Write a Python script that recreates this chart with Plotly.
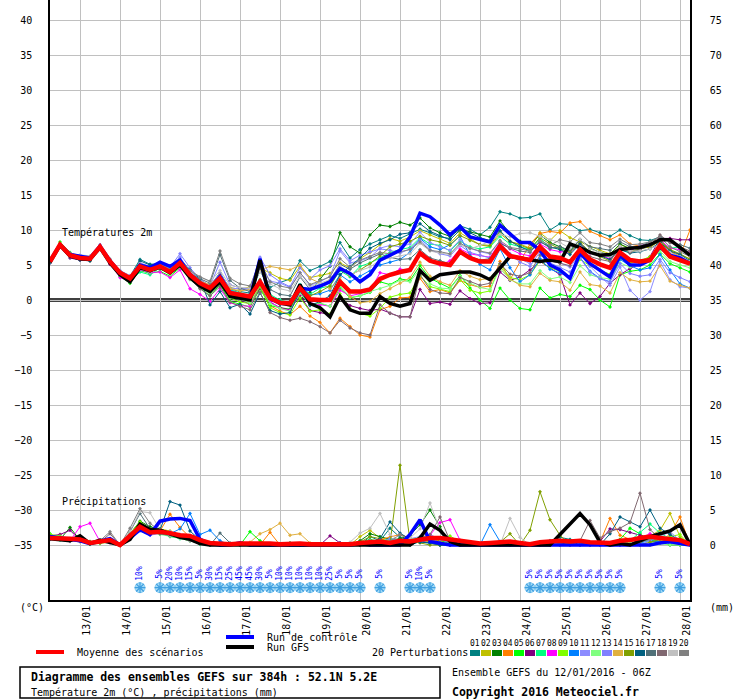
import pandas as pd
import plotly.graph_objects as go

FONT = "DejaVu Sans Mono"
GRID = "#c0c0c0"

times = pd.date_range("2016-01-12 06:00", periods=65, freq="6h")
day_ticks = pd.date_range("2016-01-13", "2016-01-28", freq="D")
day_labels = [d.strftime("%d/%m") for d in day_ticks]

member_names = ["%02d" % k for k in range(1, 21)]
member_colors = [
    "#008080", "#c0c000", "#008000", "#ff8000", "#00ff00",
    "#800080", "#00ff80", "#ff00ff", "#80ff00", "#0080ff",
    "#8c8cff", "#80ff80", "#8080ff", "#e0b040", "#80a000",
    "#006080", "#507078", "#806870", "#c0c0c0", "#808080",
]

# --- temperature 2m (degC), 6-hourly from 12/01 06Z ---
temp_mean = [5.5, 7.9, 6.4, 6.0, 5.9, 7.6, 5.5, 3.9,
             3.1, 4.8, 4.3, 4.8, 4.0, 5.3, 3.6, 2.4,
             1.7, 3.1, 1.0, 0.7, 0.5, 2.6, 0.3, -0.4,
             -0.5, 1.7, 0.1, 0.0, 0.0, 2.6, 1.2, 1.2,
             1.5, 3.0, 3.6, 4.0, 4.3, 6.7, 5.6, 5.2,
             5.0, 6.9, 6.0, 5.5, 5.5, 7.7, 6.3, 6.0,
             5.7, 7.6, 6.2, 6.0, 5.4, 7.2, 5.8, 5.1,
             4.6, 6.8, 5.7, 5.5, 5.7, 7.8, 6.2, 5.7,
             5.2]
temp_control = [5.6, 7.9, 6.5, 6.2, 6.0, 7.7, 5.6, 3.9,
                3.0, 5.0, 4.6, 5.4, 4.8, 5.7, 3.5, 2.4,
                1.6, 3.4, 1.0, 0.6, 0.2, 5.9, 0.2, -0.5,
                -0.5, 1.7, 1.5, 2.0, 2.6, 4.5, 3.8, 2.6,
                3.6, 5.7, 6.4, 7.1, 9.0, 12.4, 11.9, 10.7,
                9.3, 10.5, 9.0, 8.6, 8.3, 10.7, 9.5, 8.2,
                8.2, 7.1, 5.0, 4.3, 3.1, 6.7, 5.2, 4.3,
                3.3, 6.4, 5.0, 5.0, 5.7, 7.6, 6.4, 6.0,
                5.2]
temp_gfs = [5.4, 7.8, 6.3, 5.9, 5.8, 7.5, 5.3, 3.6,
            2.6, 4.6, 4.2, 4.7, 3.9, 5.0, 3.2, 2.0,
            1.2, 2.6, 0.5, 0.2, 0.0, 5.7, 0.4, -0.4,
            -0.7, 2.2, -0.5, -1.1, -2.4, 0.5, -1.4, -1.9,
            -1.9, 0.5, -0.5, -0.9, -0.5, 4.2, 2.8, 3.6,
            3.8, 4.0, 4.0, 3.6, 2.9, 4.5, 6.2, 6.0,
            5.7, 5.5, 5.7, 5.5, 8.0, 7.5, 6.8, 6.4,
            6.5, 7.2, 7.4, 7.5, 7.9, 8.6, 8.6, 7.5,
            6.4]

temp_m01 = [5.3, 7.7, 6.5, 6.2, 5.8, 7.4, 5.6, 4.2,
            3.4, 5.8, 5.1, 5.2, 4.6, 5.6, 3.9, 2.9,
            2.0, 3.9, 1.6, 1.2, 1.0, 4.1, 1.8, 2.5,
            3.0, 5.6, 4.2, 4.8, 5.5, 8.2, 6.0, 7.2,
            8.0, 8.6, 9.2, 8.8, 9.5, 10.1, 9.6, 9.0,
            8.8, 10.6, 10.1, 9.3, 10.4, 12.6, 12.3, 11.7,
            11.8, 12.3, 10.0, 10.9, 10.8, 9.9, 10.1, 9.6,
            9.1, 10.0, 9.2, 8.6, 8.5, 9.0, 8.5, 7.4,
            6.7]
temp_m02 = [5.6, 7.8, 6.3, 6.1, 5.9, 7.7, 5.4, 3.7,
            2.9, 4.6, 4.0, 4.9, 3.8, 5.1, 3.4, 2.2,
            1.4, 3.4, 1.8, 1.5, 1.9, 4.6, 3.9, 3.1,
            2.8, 4.8, 3.2, 3.5, 3.8, 5.3, 4.6, 5.9,
            6.8, 7.9, 8.8, 8.4, 9.0, 9.9, 9.3, 8.8,
            8.1, 9.6, 8.7, 7.9, 7.6, 9.5, 8.3, 8.0,
            7.4, 9.6, 8.5, 9.9, 8.9, 8.3, 7.6, 7.1,
            6.6, 7.9, 7.4, 7.3, 7.8, 8.3, 7.1, 6.5,
            5.9]
temp_m03 = [5.4, 7.6, 6.6, 5.9, 6.0, 7.5, 5.6, 3.6,
            2.8, 4.4, 4.1, 4.5, 3.8, 5.1, 3.1, 1.9,
            1.1, 2.4, 0.4, 0.3, -0.2, 2.3, 0.2, -0.6,
            -0.2, 0.1, 1.1, 2.9, 4.8, 9.6, 7.6, 6.7,
            9.3, 10.7, 10.5, 11.1, 10.7, 11.7, 10.3, 9.6,
            9.1, 10.1, 9.7, 9.3, 9.0, 11.3, 9.5, 8.4,
            8.0, 9.3, 8.2, 7.6, 7.0, 8.6, 7.4, 6.8,
            6.5, 8.0, 7.3, 7.6, 7.9, 8.6, 7.0, 6.1,
            5.4]
temp_m04 = [5.5, 7.9, 6.2, 5.8, 5.7, 7.5, 5.2, 3.7,
            3.1, 4.5, 4.2, 4.4, 4.2, 5.5, 3.5, 2.6,
            1.7, 3.1, 0.9, 0.4, -0.3, 1.8, -0.8, -1.6,
            -2.1, -0.9, -2.3, -3.2, -4.7, -2.6, -3.8, -5.0,
            -5.3, -1.4, -0.9, 0.3, 0.4, 3.1, 1.2, 1.5,
            1.0, 2.8, 2.2, 1.8, 2.0, 5.5, 2.9, 5.5,
            8.0, 9.5, 9.8, 9.6, 11.0, 11.2, 9.8, 9.2,
            8.6, 9.3, 8.0, 7.7, 7.4, 8.8, 6.9, 6.3,
            10.0]
temp_m05 = [5.7, 8.3, 6.8, 6.0, 5.8, 7.6, 5.8, 3.4,
            2.4, 4.2, 3.8, 4.1, 3.4, 4.6, 3.2, 1.7,
            0.6, 2.2, -0.2, -0.6, -1.0, 1.6, -0.8, -1.1,
            -1.3, 1.2, -0.6, -0.5, -0.9, 1.8, 0.3, 0.6,
            1.1, 2.6, 2.2, 3.0, 2.8, 4.9, 3.1, 2.4,
            1.7, 3.5, 1.7, 0.0, -1.2, 1.7, 0.0, -1.2,
            -1.4, 1.7, 0.3, 0.8, 0.5, 2.1, 1.5, 0.0,
            -1.0, 3.6, 4.1, 4.3, 5.0, 6.6, 5.2, 4.6,
            4.0]
temp_m06 = [5.3, 7.6, 6.0, 5.7, 5.6, 7.3, 5.1, 3.9,
            3.3, 4.9, 4.4, 5.0, 4.1, 5.4, 3.3, 2.0,
            1.2, 2.5, 0.6, 0.0, -0.6, 1.7, -0.3, -1.1,
            -1.4, 0.6, -1.5, -1.8, -2.1, 0.4, -0.8, -1.2,
            -1.5, -1.3, -1.9, -2.4, -2.4, 1.5, -0.5, -0.3,
            -0.6, 1.3, 0.2, -0.5, -0.4, 4.0, 2.8, 3.3,
            4.3, 5.5, 4.6, 3.6, -0.7, 1.0, -0.5, 0.5,
            2.4, 3.6, 4.5, 5.2, 6.2, 8.8, 8.8, 8.6,
            8.6]
temp_m07 = [5.6, 8.0, 6.4, 6.3, 6.1, 7.8, 5.5, 3.8,
            2.6, 4.0, 3.6, 4.6, 3.9, 5.0, 3.4, 2.6,
            1.5, 3.5, 1.5, 1.0, 0.4, 2.9, 0.8, 0.0,
            -0.4, 2.2, 0.8, 1.7, 2.0, 4.2, 3.3, 4.8,
            5.3, 6.0, 6.8, 7.2, 7.5, 8.9, 8.0, 7.8,
            7.0, 8.4, 7.6, 7.3, 7.6, 9.1, 8.0, 7.6,
            7.2, 8.8, 7.5, 7.4, 6.9, 8.1, 6.8, 6.5,
            6.2, 7.2, 6.8, 7.2, 7.9, 8.5, 7.4, 7.6,
            6.7]
temp_m08 = [5.4, 7.7, 6.3, 6.2, 5.9, 7.5, 5.3, 3.2,
            2.7, 4.3, 3.9, 4.0, 3.2, 4.3, 1.6, 0.8,
            -0.2, 1.6, -0.4, -0.8, -0.9, 2.1, -0.2, -1.2,
            -1.5, 0.9, -0.4, -0.7, -0.9, 1.4, 0.6, 0.9,
            1.3, 3.9, 3.6, 4.4, 4.3, 6.5, 5.8, 5.0,
            5.6, 7.3, 6.6, 6.4, 6.1, 8.3, 7.3, 6.6,
            6.3, 8.0, 7.2, 6.9, 6.8, 8.1, 6.7, 6.4,
            5.9, 7.3, 7.0, 7.8, 8.0, 8.6, 7.4, 7.2,
            6.8]
temp_m09 = [5.5, 8.1, 6.5, 5.9, 6.2, 7.7, 5.7, 3.6,
            2.9, 4.7, 4.3, 4.7, 3.9, 5.0, 3.3, 2.2,
            1.3, 2.6, 0.3, -0.3, -0.5, 1.9, -1.1, -1.8,
            -2.1, 0.3, -1.6, -1.4, -2.0, 0.9, -1.2, -1.9,
            -2.3, -1.2, 0.4, 0.8, 1.0, 3.5, 1.9, 1.6,
            1.2, 2.9, 1.4, 1.0, 1.3, 5.1, 3.2, 2.9,
            3.6, 5.6, 4.6, 4.1, 3.2, 5.8, 4.9, 4.2,
            3.7, 5.9, 5.3, 5.6, 6.2, 7.3, 6.1, 5.6,
            5.1]
temp_m10 = [5.4, 7.8, 6.4, 6.0, 5.8, 7.6, 5.5, 3.9,
            3.3, 5.1, 4.5, 5.0, 4.3, 5.6, 3.8, 2.7,
            1.9, 3.3, 1.4, 0.9, 0.7, 2.8, 0.5, -0.2,
            -0.4, 2.1, 0.7, 0.9, 1.4, 3.6, 2.6, 3.4,
            4.1, 5.0, 5.4, 5.8, 6.8, 8.8, 7.6, 7.2,
            7.9, 9.1, 6.4, 5.1, 4.3, 7.3, 4.6, 2.6,
            3.6, 5.9, 4.4, 3.9, 3.3, 6.1, 4.1, 3.1,
            2.6, 5.8, 4.9, 4.3, 4.6, 6.5, 4.3, 2.3,
            1.7]
temp_m11 = [5.6, 7.9, 6.6, 6.4, 6.1, 7.9, 5.8, 4.2,
            3.5, 5.3, 4.8, 5.3, 4.9, 6.1, 4.1, 2.9,
            2.0, 3.8, 1.7, 1.6, 1.5, 4.8, 2.7, 2.4,
            1.8, 3.9, 2.1, 2.6, 3.4, 7.0, 5.3, 5.6,
            6.1, 7.4, 7.8, 7.6, 8.0, 9.7, 8.2, 7.6,
            7.1, 8.6, 7.4, 6.9, 6.6, 8.4, 6.3, 5.9,
            5.2, 7.6, 5.8, 5.3, 4.7, 6.6, 4.8, 3.4,
            2.1, 4.7, 1.4, 0.0, 1.2, 5.5, 2.9, 1.9,
            1.7]
temp_m12 = [5.5, 7.9, 6.2, 6.1, 6.0, 7.4, 5.4, 3.5,
            2.6, 4.4, 4.0, 4.5, 3.6, 4.7, 2.9, 1.8,
            0.9, 2.7, 0.3, 0.1, -0.4, 2.2, -0.5, -1.2,
            -1.6, 1.0, -0.7, -0.4, -0.9, 2.0, 0.4, 0.6,
            1.2, 1.6, 2.1, 2.8, 2.6, 4.4, 2.3, 1.7,
            1.6, 3.4, 2.4, 1.8, 1.5, 4.5, 2.9, 2.3,
            2.3, 4.2, 3.0, 3.3, 2.5, 4.9, 3.6, 3.2,
            3.0, 5.3, 4.7, 5.0, 5.6, 7.0, 5.5, 5.0,
            4.6]
temp_m13 = [5.4, 7.8, 6.7, 6.3, 6.0, 7.6, 5.6, 3.9,
            3.2, 4.9, 4.4, 5.0, 4.7, 6.6, 4.6, 3.0,
            2.0, 5.4, 2.2, 1.7, 1.6, 6.1, 3.6, 2.6,
            1.9, 4.6, 3.0, 4.3, 4.9, 7.3, 5.6, 6.4,
            6.9, 7.3, 7.1, 6.7, 7.3, 8.6, 7.2, 6.6,
            6.3, 7.8, 6.8, 6.4, 6.0, 7.9, 6.6, 5.4,
            4.8, 6.9, 5.3, 4.6, 4.0, 6.0, 4.0, 3.0,
            2.6, 5.2, 3.8, 3.4, 3.6, 5.8, 3.9, 3.2,
            2.6]
temp_m14 = [5.6, 7.8, 6.5, 6.0, 5.7, 7.7, 5.7, 4.0,
            3.2, 5.0, 4.5, 5.1, 4.4, 5.5, 3.5, 2.7,
            2.2, 3.6, 1.6, 1.3, 1.5, 4.3, 4.8, 4.5,
            4.3, 5.0, 3.1, 2.4, 1.6, 3.2, 0.5, -0.4,
            -0.2, 0.9, 1.6, 2.4, 3.2, 5.4, 3.4, 2.6,
            2.1, 4.2, 3.4, 2.9, 3.1, 4.8, 3.0, 2.1,
            1.9, 3.8, 2.8, 2.6, 1.4, 4.0, 2.2, 2.0,
            1.0, 3.9, 2.9, 2.6, 2.7, 4.9, 2.7, 2.1,
            1.7]
temp_m15 = [5.4, 7.7, 6.5, 6.1, 5.6, 7.5, 5.4, 3.8,
            3.0, 4.6, 4.2, 4.6, 4.0, 5.3, 3.6, 2.4,
            1.6, 3.2, 1.1, 0.6, 0.3, 2.5, 0.4, -0.4,
            -0.6, 1.9, 0.6, 1.2, 2.0, 4.4, 3.5, 4.3,
            5.2, 6.3, 7.6, 8.0, 8.4, 9.1, 8.6, 8.3,
            7.8, 9.2, 8.5, 7.9, 7.8, 9.8, 8.4, 7.9,
            7.3, 8.9, 8.0, 7.3, 6.8, 8.2, 6.9, 6.2,
            5.6, 7.6, 6.9, 7.3, 7.6, 8.4, 7.2, 6.6,
            5.8]
temp_m16 = [5.4, 7.6, 6.2, 5.7, 5.6, 7.3, 5.3, 3.6,
            2.9, 5.6, 5.0, 5.2, 4.6, 5.8, 4.3, 3.0,
            -0.7, 1.2, -1.1, -0.6, -2.0, 1.0, -1.5, -2.0,
            -1.8, 1.3, -0.8, -0.2, 0.6, 3.6, 4.8, 6.0,
            7.4, 8.1, 8.6, 9.4, 9.6, 10.9, 9.8, 9.2,
            8.6, 10.0, 9.6, 8.9, 8.5, 9.9, 8.4, 7.6,
            7.0, 8.3, 7.6, 7.2, 6.5, 8.0, 6.8, 6.3,
            5.8, 7.2, 6.7, 6.9, 7.3, 8.2, 7.0, 6.5,
            5.6]
temp_m17 = [5.5, 7.8, 6.4, 6.1, 6.0, 7.6, 5.5, 3.6,
            2.7, 5.2, 4.4, 4.9, 4.2, 5.3, 3.7, 3.0,
            2.4, 6.5, 2.8, 1.7, 1.2, 4.6, 1.5, 0.8,
            0.6, 3.3, 1.5, 2.1, 2.8, 5.1, 4.4, 5.3,
            6.0, 6.6, 6.1, 5.8, 5.9, 7.2, 6.0, 5.6,
            5.2, 6.8, 6.2, 5.7, 5.9, 8.1, 7.4, 7.0,
            6.8, 8.4, 7.4, 7.6, 7.1, 8.6, 7.6, 7.4,
            7.1, 8.3, 7.6, 7.7, 8.3, 9.1, 8.2, 7.9,
            7.4]
temp_m18 = [5.6, 8.0, 6.6, 6.2, 5.9, 7.7, 5.6, 3.9,
            3.1, 4.6, 4.1, 4.6, 3.8, 5.1, 3.0, 1.6,
            0.6, 1.9, -0.3, -0.9, -1.4, 1.1, -1.8, -2.5,
            -2.9, -2.6, -3.1, -3.8, -4.7, -2.9, -4.0, -4.7,
            -5.0, -0.7, -1.9, -2.4, -2.4, 3.6, 1.5, 1.0,
            0.9, 3.2, 2.6, 2.1, 2.4, 5.2, 3.7, 3.4,
            3.9, 6.4, 5.6, 5.2, 4.9, 7.5, 6.2, 5.8,
            5.5, 7.6, 6.8, 7.2, 7.8, 9.3, 8.2, 7.6,
            7.0]
temp_m19 = [5.6, 8.0, 6.6, 6.4, 6.3, 7.8, 5.9, 4.1,
            3.4, 5.2, 4.6, 5.1, 4.5, 5.8, 4.1, 3.3,
            2.6, 4.2, 2.1, 1.8, 1.7, 4.0, 2.3, 1.6,
            1.3, 3.4, 1.9, 2.4, 2.9, 4.9, 3.6, 4.2,
            4.7, 5.7, 6.0, 6.3, 6.6, 8.1, 7.0, 6.7,
            6.5, 7.9, 7.3, 7.8, 8.4, 9.4, 9.0, 9.5,
            9.6, 9.1, 8.6, 8.2, 7.4, 8.7, 7.3, 6.8,
            6.3, 7.7, 7.0, 7.0, 7.3, 8.0, 6.8, 6.2,
            5.5]
temp_m20 = [5.5, 7.9, 6.5, 6.1, 6.0, 7.5, 5.7, 4.0,
            3.3, 5.0, 4.5, 5.2, 4.4, 5.4, 4.2, 3.3,
            2.7, 7.0, 3.1, 2.3, 2.0, 5.5, 2.6, 2.0,
            1.7, 3.9, 2.2, 2.8, 3.3, 5.9, 4.7, 5.7,
            6.2, 6.8, 6.6, 6.9, 7.2, 8.3, 7.1, 6.9,
            6.6, 8.1, 7.4, 7.0, 6.7, 8.5, 7.5, 7.3,
            7.0, 8.5, 7.8, 8.6, 8.3, 9.6, 8.2, 8.0,
            7.6, 8.7, 7.9, 8.0, 8.3, 9.0, 7.6, 6.9,
            6.2]

# --- precipitation (mm per 6h) ---
rain_mean = [1.0, 1.0, 0.9, 0.8, 0.3, 0.5, 0.7, 0.0,
             1.3, 2.6, 1.8, 1.9, 1.7, 1.4, 1.3, 0.7,
             0.3, 0.2, 0.1, 0.2, 0.2, 0.3, 0.2, 0.1,
             0.2, 0.2, 0.1, 0.1, 0.1, 0.1, 0.1, 0.3,
             0.4, 0.5, 0.3, 0.6, 0.5, 0.8, 1.0, 1.0,
             0.8, 0.6, 0.4, 0.2, 0.3, 0.4, 0.5, 0.3,
             0.1, 0.4, 0.5, 0.6, 0.5, 0.6, 0.4, 0.3,
             0.3, 0.6, 0.7, 1.0, 1.2, 1.0, 0.8, 0.7,
             0.1]
rain_control = [1.2, 1.0, 0.8, 0.6, 0.2, 0.6, 0.9, 0.0,
                1.0, 2.2, 1.5, 3.4, 3.7, 3.8, 3.5, 0.8,
                0.2, 0.0, 0.0, 0.3, 0.0, 0.0, 0.0, 0.0,
                0.0, 0.0, 0.0, 0.0, 0.0, 0.0, 0.0, 0.2,
                0.0, 0.0, 0.0, 0.0, 1.5, 3.6, 0.5, 0.2,
                0.0, 0.0, 0.0, 0.0, 0.0, 0.0, 0.0, 0.0,
                0.0, 0.0, 0.0, 0.0, 0.0, 0.0, 0.0, 0.0,
                0.0, 0.0, 0.0, 0.0, 0.0, 0.3, 0.5, 0.2,
                0.0]
rain_gfs = [0.9, 0.8, 0.6, 1.3, 0.2, 0.7, 0.4, 0.0,
            0.8, 3.0, 2.2, 2.1, 1.6, 1.1, 0.8, 0.2,
            0.0, 0.0, 0.0, 0.0, 0.0, 0.0, 0.0, 0.0,
            0.0, 0.0, 0.0, 0.0, 0.0, 0.0, 0.0, 0.0,
            0.0, 0.0, 0.0, 0.0, 0.0, 1.0, 3.0, 2.1,
            0.5, 0.0, 0.0, 0.0, 0.0, 0.0, 0.0, 0.0,
            0.0, 0.0, 0.0, 1.5, 3.0, 4.5, 2.9, 0.4,
            0.0, 0.2, 0.0, 0.6, 1.2, 1.6, 2.0, 2.9,
            0.1]

rain_m01 = [1.4, 1.1, 0.6, 0.9, 0.3, 0.4, 0.5, 0.0,
            1.6, 3.1, 2.0, 1.6, 1.4, 1.1, 0.9, 0.4,
            0.2, 0.0, 0.0, 0.0, 0.0, 0.2, 0.0, 0.0,
            0.0, 0.0, 0.0, 0.0, 0.0, 0.3, 0.0, 0.0,
            1.2, 0.6, 2.4, 1.1, 0.6, 0.9, 1.2, 0.4,
            0.0, 0.0, 0.0, 0.0, 0.0, 0.0, 0.0, 0.3,
            0.0, 0.4, 0.6, 1.1, 0.8, 0.3, 0.0, 0.0,
            0.0, 0.2, 0.0, 0.5, 0.8, 0.9, 0.4, 0.6,
            0.0]
rain_m02 = [1.0, 1.2, 0.7, 0.5, 0.1, 0.3, 0.6, 0.0,
            1.1, 2.4, 1.7, 2.3, 2.0, 1.3, 1.0, 0.6,
            0.0, 0.0, 0.0, 0.0, 0.3, 0.0, 0.0, 0.0,
            0.0, 0.0, 0.0, 0.0, 0.0, 0.0, 0.0, 1.2,
            2.1, 1.0, 0.4, 0.0, 0.0, 0.8, 0.4, 0.6,
            0.0, 0.0, 0.0, 0.0, 0.0, 0.0, 0.4, 0.0,
            0.0, 0.0, 0.3, 0.2, 0.0, 0.0, 0.0, 0.4,
            0.0, 0.0, 0.5, 0.8, 1.3, 2.1, 4.5, 1.2,
            0.0]
rain_m03 = [1.3, 0.8, 2.5, 0.7, 0.4, 0.6, 0.8, 0.0,
            1.6, 3.4, 2.6, 2.3, 1.8, 1.2, 0.7, 0.2,
            0.0, 0.0, 0.0, 0.0, 0.0, 0.0, 0.0, 0.0,
            0.3, 0.0, 0.0, 0.0, 0.0, 0.0, 0.0, 0.6,
            1.6, 1.2, 0.8, 0.9, 1.4, 2.9, 5.0, 2.6,
            0.0, 0.0, 0.0, 0.0, 0.0, 0.0, 0.3, 0.0,
            0.0, 0.0, 0.0, 0.0, 0.0, 0.0, 0.0, 0.0,
            0.0, 0.0, 0.0, 1.0, 0.6, 0.4, 0.0, 0.0,
            0.0]
rain_m04 = [0.9, 1.0, 0.8, 0.6, 0.2, 0.4, 0.5, 0.0,
            1.4, 2.8, 1.9, 2.0, 4.4, 2.5, 1.1, 0.6,
            0.2, 0.0, 0.0, 0.0, 0.0, 0.0, 1.8, 0.0,
            0.0, 0.0, 0.0, 0.0, 0.0, 0.0, 0.0, 0.0,
            0.4, 0.8, 1.1, 1.5, 1.0, 0.7, 0.9, 0.6,
            0.4, 0.0, 0.0, 0.0, 0.0, 0.0, 0.0, 0.0,
            0.0, 0.0, 0.0, 0.3, 0.0, 0.0, 0.0, 0.4,
            3.8, 1.4, 0.8, 1.2, 0.5, 0.3, 1.6, 4.0,
            0.0]
rain_m05 = [1.6, 0.9, 0.7, 1.0, 0.5, 0.3, 0.6, 0.0,
            1.0, 2.1, 1.6, 1.8, 1.3, 1.0, 0.6, 0.2,
            0.0, 0.0, 0.0, 0.0, 1.9, 0.6, 0.0, 0.0,
            0.0, 0.0, 0.0, 0.0, 0.0, 0.0, 0.0, 0.3,
            0.8, 0.5, 0.9, 0.6, 0.4, 0.9, 1.1, 0.7,
            0.2, 0.0, 0.0, 0.0, 0.0, 0.0, 0.0, 0.0,
            0.0, 0.0, 0.0, 0.4, 0.2, 0.0, 0.0, 0.0,
            0.0, 0.8, 2.4, 1.6, 0.6, 0.8, 0.3, 0.9,
            0.0]
rain_m06 = [1.3, 1.5, 2.1, 0.7, 0.2, 0.4, 0.5, 0.0,
            1.2, 2.6, 1.8, 2.0, 1.5, 1.2, 0.9, 0.4,
            0.0, 0.0, 0.0, 0.0, 0.0, 0.0, 0.0, 0.0,
            0.0, 0.0, 0.0, 0.0, 1.3, 0.3, 0.0, 0.0,
            0.0, 0.3, 0.0, 0.0, 0.4, 0.6, 0.3, 0.0,
            0.0, 0.0, 0.0, 0.0, 0.0, 0.0, 0.0, 0.0,
            0.0, 0.0, 0.0, 0.0, 0.0, 0.0, 0.0, 0.5,
            2.3, 2.2, 1.8, 1.4, 1.0, 0.6, 0.4, 0.3,
            0.0]
rain_m07 = [1.1, 0.7, 0.9, 1.1, 0.3, 0.6, 0.8, 0.0,
            1.5, 2.9, 2.2, 1.8, 1.2, 0.9, 0.7, 0.1,
            0.0, 0.0, 0.0, 0.0, 0.0, 0.0, 0.0, 0.0,
            0.0, 0.0, 0.0, 0.0, 0.0, 0.0, 0.0, 0.0,
            0.3, 0.5, 0.2, 0.0, 0.4, 1.0, 1.3, 0.8,
            0.3, 0.0, 0.0, 0.0, 0.0, 0.0, 0.0, 0.0,
            0.0, 0.0, 0.0, 0.0, 0.0, 0.0, 0.0, 0.0,
            0.0, 0.0, 0.6, 1.8, 3.0, 1.7, 0.9, 0.4,
            0.0]
rain_m08 = [1.0, 0.9, 0.6, 2.6, 3.1, 0.5, 0.3, 0.0,
            1.3, 2.3, 1.5, 1.9, 1.4, 1.2, 0.8, 0.3,
            0.0, 0.0, 0.0, 0.0, 0.0, 0.0, 0.0, 0.0,
            0.0, 0.0, 0.0, 0.0, 0.0, 0.0, 0.0, 0.2,
            0.6, 0.3, 0.0, 0.0, 0.0, 0.6, 1.4, 3.2,
            3.6, 0.7, 0.0, 0.0, 0.0, 0.0, 0.0, 0.0,
            0.0, 0.0, 0.0, 0.0, 0.0, 0.0, 0.0, 0.0,
            0.0, 0.4, 0.0, 1.0, 1.6, 0.5, 0.3, 0.6,
            0.0]
rain_m09 = [1.5, 1.3, 0.8, 0.7, 0.1, 0.2, 0.4, 0.0,
            1.7, 3.3, 2.3, 1.7, 1.5, 1.4, 1.0, 0.5,
            0.0, 0.0, 0.0, 0.0, 0.0, 0.0, 0.0, 0.0,
            0.0, 0.0, 0.0, 0.0, 0.0, 0.0, 0.0, 0.0,
            0.2, 0.4, 0.7, 0.3, 0.0, 0.5, 0.8, 0.4,
            1.3, 0.4, 0.0, 0.0, 0.0, 0.0, 0.0, 0.0,
            0.0, 0.0, 0.0, 0.0, 0.0, 0.0, 0.0, 0.0,
            0.0, 0.0, 0.0, 0.0, 0.0, 0.6, 1.2, 1.5,
            0.0]
rain_m10 = [0.8, 0.9, 0.9, 0.8, 0.2, 0.5, 0.6, 0.0,
            1.0, 2.5, 1.6, 1.8, 1.6, 2.3, 4.5, 1.5,
            2.1, 0.6, 0.0, 0.0, 0.0, 0.0, 0.0, 0.0,
            0.0, 0.0, 0.0, 0.0, 0.0, 0.0, 0.0, 0.0,
            0.0, 0.3, 0.0, 0.0, 0.0, 0.5, 0.3, 0.0,
            0.0, 0.0, 0.0, 0.0, 2.9, 0.5, 0.0, 0.0,
            0.0, 0.0, 0.0, 0.0, 0.0, 0.0, 0.0, 0.0,
            0.0, 0.0, 0.0, 0.3, 0.6, 0.5, 0.2, 0.3,
            0.0]
rain_m11 = [1.1, 1.0, 0.5, 0.9, 0.4, 0.3, 0.6, 0.0,
            1.2, 2.0, 1.4, 1.6, 1.9, 1.5, 1.2, 0.5,
            0.0, 0.0, 0.0, 0.0, 0.0, 0.0, 0.0, 0.0,
            0.0, 0.0, 0.0, 0.0, 0.0, 0.0, 0.0, 0.0,
            0.0, 0.2, 0.5, 0.3, 0.9, 1.2, 0.8, 0.4,
            0.0, 0.0, 0.0, 0.0, 0.0, 0.0, 0.0, 0.0,
            0.0, 0.0, 0.0, 0.0, 0.0, 0.0, 0.0, 0.0,
            0.0, 0.0, 0.0, 0.5, 0.7, 1.5, 0.6, 0.4,
            0.0]
rain_m12 = [1.2, 0.8, 0.7, 0.6, 0.3, 0.5, 0.7, 0.0,
            1.8, 2.7, 1.9, 1.5, 1.2, 1.0, 0.8, 0.4,
            0.0, 0.0, 0.0, 0.0, 0.0, 0.0, 0.0, 0.0,
            0.0, 0.0, 0.0, 0.0, 0.0, 0.0, 0.0, 0.0,
            0.4, 0.6, 0.3, 0.5, 0.8, 1.1, 0.6, 0.3,
            0.0, 0.0, 0.0, 0.0, 0.0, 0.0, 0.0, 0.0,
            0.0, 0.0, 0.3, 0.0, 0.0, 0.0, 0.0, 0.0,
            0.0, 0.3, 0.5, 0.9, 0.4, 0.2, 0.0, 0.0,
            0.0]
rain_m13 = [0.9, 1.1, 0.8, 0.9, 0.2, 0.4, 0.5, 0.0,
            1.4, 2.2, 1.7, 2.1, 1.8, 1.3, 1.1, 0.6,
            0.0, 0.0, 0.0, 0.0, 0.0, 0.0, 0.0, 0.0,
            0.0, 0.0, 0.0, 0.0, 0.0, 0.0, 0.0, 0.0,
            0.0, 0.4, 0.9, 0.6, 0.4, 0.8, 1.5, 0.8,
            0.3, 0.0, 0.0, 0.0, 0.0, 0.0, 0.0, 0.0,
            0.0, 0.0, 0.0, 0.0, 0.0, 0.0, 0.0, 0.0,
            0.0, 0.0, 0.0, 0.0, 0.6, 1.3, 1.9, 0.6,
            0.0]
rain_m14 = [1.0, 0.8, 0.6, 0.7, 0.3, 0.6, 0.4, 0.0,
            1.1, 2.4, 1.8, 1.7, 1.6, 1.2, 0.9, 0.5,
            0.0, 0.0, 0.0, 0.0, 0.4, 1.6, 2.2, 3.1,
            1.4, 1.6, 0.3, 0.0, 0.0, 0.0, 0.0, 0.0,
            0.0, 0.6, 0.4, 0.0, 0.3, 0.7, 0.6, 0.4,
            0.0, 0.0, 0.0, 0.0, 0.0, 0.0, 0.0, 0.0,
            0.0, 0.0, 0.0, 0.0, 0.0, 0.0, 0.0, 0.0,
            0.0, 0.0, 0.0, 0.4, 1.0, 0.7, 0.5, 0.3,
            0.0]
rain_m15 = [1.3, 1.0, 0.7, 0.9, 0.4, 0.3, 0.5, 0.0,
            1.5, 2.8, 2.0, 1.8, 1.4, 1.2, 0.8, 0.3,
            0.0, 0.0, 0.0, 0.0, 0.0, 0.0, 0.0, 0.0,
            0.0, 0.0, 0.0, 0.0, 0.0, 0.0, 0.0, 0.4,
            1.2, 0.9, 0.2, 11.4, 0.5, 0.3, 0.0, 0.0,
            0.0, 0.0, 0.0, 0.0, 0.0, 0.4, 1.6, 0.0,
            2.1, 7.6, 3.6, 1.4, 0.0, 0.0, 0.0, 0.0,
            0.0, 0.0, 0.0, 0.0, 0.4, 0.8, 0.5, 0.3,
            0.0]
rain_m16 = [1.2, 0.9, 0.8, 0.6, 0.2, 0.4, 0.7, 0.0,
            1.1, 2.5, 1.7, 2.1, 6.2, 5.7, 2.0, 0.7,
            0.0, 0.0, 0.0, 0.0, 0.0, 0.0, 0.0, 0.0,
            0.0, 0.0, 0.0, 0.0, 0.0, 0.0, 0.0, 0.0,
            0.3, 0.9, 3.3, 1.7, 0.8, 0.4, 0.3, 0.0,
            0.0, 0.0, 0.0, 0.0, 0.0, 0.0, 0.0, 0.0,
            0.0, 0.0, 0.0, 0.0, 0.6, 0.0, 0.0, 0.0,
            1.6, 4.0, 3.3, 2.6, 5.0, 2.4, 1.5, 0.6,
            0.0]
rain_m17 = [1.0, 1.1, 0.7, 0.8, 0.3, 0.5, 0.6, 0.0,
            1.9, 4.5, 2.3, 1.6, 1.3, 1.1, 0.6, 0.3,
            0.0, 1.7, 0.3, 0.0, 0.0, 0.0, 0.0, 0.0,
            0.0, 0.0, 0.0, 0.0, 0.0, 0.0, 0.0, 0.0,
            0.0, 0.6, 0.4, 0.3, 0.7, 1.0, 0.6, 0.3,
            0.0, 0.0, 0.0, 0.0, 0.0, 0.0, 0.0, 0.0,
            0.0, 0.0, 0.0, 0.0, 0.0, 0.0, 0.0, 0.0,
            0.0, 0.0, 0.0, 0.4, 0.9, 1.3, 0.7, 0.4,
            0.0]
rain_m18 = [1.1, 0.9, 0.8, 0.7, 0.2, 0.4, 1.6, 0.0,
            1.2, 2.7, 1.9, 1.7, 1.5, 1.2, 0.8, 0.2,
            0.0, 0.0, 0.0, 0.0, 0.0, 0.0, 0.0, 0.0,
            0.0, 0.0, 0.0, 0.0, 0.0, 0.0, 0.0, 0.0,
            0.0, 0.0, 0.3, 0.2, 0.6, 1.1, 1.5, 4.0,
            0.6, 0.0, 0.0, 0.0, 0.0, 0.0, 0.0, 0.0,
            0.0, 0.0, 0.0, 0.0, 0.0, 0.6, 3.5, 1.0,
            1.9, 2.4, 3.2, 7.4, 2.2, 0.9, 0.5, 0.2,
            0.0]
rain_m19 = [1.0, 0.9, 0.7, 0.8, 0.3, 0.5, 0.6, 0.0,
            2.0, 4.8, 4.6, 2.2, 1.4, 1.0, 0.6, 0.2,
            0.0, 0.0, 0.0, 0.0, 0.0, 0.0, 0.0, 0.0,
            0.0, 0.0, 0.0, 0.0, 0.0, 0.0, 0.4, 1.7,
            2.4, 4.5, 1.5, 0.6, 1.0, 2.3, 6.0, 2.1,
            0.3, 0.0, 0.0, 0.0, 0.0, 0.0, 3.8, 1.1,
            0.0, 0.3, 0.5, 0.0, 0.0, 0.0, 0.0, 0.0,
            0.0, 0.0, 0.0, 0.6, 1.2, 1.5, 0.9, 0.5,
            0.0]
rain_m20 = [0.8, 1.0, 0.6, 0.5, 0.3, 0.6, 1.9, 0.0,
            2.4, 5.2, 3.1, 2.0, 1.5, 1.2, 0.7, 0.3,
            0.0, 0.0, 0.0, 0.0, 0.0, 0.0, 0.0, 0.0,
            0.0, 0.0, 0.0, 0.0, 0.0, 0.0, 0.0, 0.0,
            0.3, 0.7, 0.5, 1.5, 0.6, 0.9, 0.7, 0.3,
            0.0, 0.0, 0.0, 0.0, 0.0, 0.0, 0.0, 0.0,
            0.0, 0.0, 0.0, 0.0, 0.0, 0.0, 0.0, 0.0,
            0.0, 0.0, 0.0, 0.5, 0.8, 1.1, 0.6, 0.4,
            0.0]

# snow probability (%) per time step, 0 = no symbol
snow_pct = [0, 0, 0, 0, 0, 0, 0, 0,
            0, 10, 0, 5, 20, 10, 15, 5,
            30, 15, 25, 45, 45, 30, 5, 10,
            10, 10, 10, 10, 25, 5, 5, 5,
            0, 5, 0, 0, 5, 10, 5, 0,
            0, 0, 0, 0, 0, 0, 0, 0,
            5, 5, 5, 5, 5, 5, 5, 5,
            5, 5, 0, 0, 0, 5, 0, 5,
            0]

temp_members = [temp_m01, temp_m02, temp_m03, temp_m04, temp_m05, temp_m06, temp_m07,
                temp_m08, temp_m09, temp_m10, temp_m11, temp_m12, temp_m13, temp_m14,
                temp_m15, temp_m16, temp_m17, temp_m18, temp_m19, temp_m20]
rain_members = [rain_m01, rain_m02, rain_m03, rain_m04, rain_m05, rain_m06, rain_m07,
                rain_m08, rain_m09, rain_m10, rain_m11, rain_m12, rain_m13, rain_m14,
                rain_m15, rain_m16, rain_m17, rain_m18, rain_m19, rain_m20]

# 7 px per unit, plot 600 px tall, centred on 0 degC; precip axis is temp + 35
T_LIM = 300 / 7
P_OFF = 35

fig = go.Figure()

for name, col, tv, rv in zip(member_names, member_colors, temp_members, rain_members):
    fig.add_trace(go.Scatter(x=times, y=tv, mode="lines+markers", name=name,
                             line=dict(color=col, width=1),
                             marker=dict(color=col, size=3, symbol="diamond")))
    fig.add_trace(go.Scatter(x=times, y=rv, yaxis="y2", mode="lines+markers", name=name,
                             line=dict(color=col, width=1),
                             marker=dict(color=col, size=3, symbol="diamond")))

for tv, rv, col, w in [(temp_control, rain_control, "#0000ff", 3.5),
                       (temp_gfs, rain_gfs, "#000000", 3.5),
                       (temp_mean, rain_mean, "#ff0000", 4.5)]:
    fig.add_trace(go.Scatter(x=times, y=tv, mode="lines", line=dict(color=col, width=w)))
    fig.add_trace(go.Scatter(x=times, y=rv, yaxis="y2", mode="lines",
                             line=dict(color=col, width=w)))

# snow symbols + probability labels
snow_x = [t for t, p in zip(times, snow_pct) if p]
snow_y = [-41.1] * len(snow_x)
fig.add_trace(go.Scatter(x=snow_x, y=snow_y, mode="markers",
                         marker=dict(symbol="circle", size=10, color="#a6dcf7",
                                     line=dict(color="#7cc6f0", width=1))))
fig.add_trace(go.Scatter(x=snow_x, y=snow_y, mode="markers",
                         marker=dict(symbol="asterisk-open", size=9, color="#3f9fe0",
                                     line=dict(color="#3f9fe0", width=1.2))))

annotations = []
for t, p in zip(times, snow_pct):
    if p:
        annotations.append(dict(x=t, y=-39.1, xref="x", yref="y", text="%d%%" % p,
                                textangle=-90, showarrow=False,
                                font=dict(family=FONT, size=8, color="#0000ff")))


def px(x):
    return (x - 50) / 640


def py(y):
    return (600 - y) / 600


def label(x, y, text, size=10, xanchor="left"):
    annotations.append(dict(x=px(x), y=py(y), xref="paper", yref="paper", text=text,
                            showarrow=False, xanchor=xanchor, yanchor="middle",
                            font=dict(family=FONT, size=size, color="black")))


label(60, 233, "Températures 2m")
label(60, 501, "Précipitations")
label(18, 607, "(°C)")
label(708, 607, "(mm)")
label(75, 652, "Moyenne des scénarios")
label(265, 637, "Run de contrôle")
label(265, 647, "Run GFS")
label(370, 652, "20 Perturbations")
label(29, 677, "<b>Diagramme des ensembles GEFS sur 384h : 52.1N 5.2E</b>", size=11.5)
label(29, 692, "Température 2m (°C) , précipitations (mm)")
label(450, 672, "Ensemble GEFS du 12/01/2016 - 06Z")
label(450, 692, "<b>Copyright 2016 Meteociel.fr</b>", size=11.5)

shapes = [
    dict(type="line", xref="paper", yref="y", x0=0, x1=1, y0=1 / 7, y1=1 / 7,
         line=dict(color="black", width=1.5), layer="below"),
    dict(type="line", xref="paper", yref="y", x0=0, x1=1, y0=-1 / 7, y1=-1 / 7,
         line=dict(color="black", width=1.5), layer="below"),
    dict(type="line", xref="paper", yref="paper", x0=px(36), x1=px(64), y0=py(652), y1=py(652),
         line=dict(color="#ff0000", width=4)),
    dict(type="line", xref="paper", yref="paper", x0=px(226), x1=px(254), y0=py(637), y1=py(637),
         line=dict(color="#0000ff", width=4)),
    dict(type="line", xref="paper", yref="paper", x0=px(226), x1=px(254), y0=py(647), y1=py(647),
         line=dict(color="#000000", width=4)),
    dict(type="rect", xref="paper", yref="paper", x0=px(20), x1=px(440), y0=py(667), y1=py(698),
         line=dict(color="black", width=1.5)),
]
for k, (name, col) in enumerate(zip(member_names, member_colors)):
    x0 = 470 + 11 * k
    shapes.append(dict(type="rect", xref="paper", yref="paper", x0=px(x0), x1=px(x0 + 10),
                       y0=py(656), y1=py(650), fillcolor=col, line=dict(width=0)))
    annotations.append(dict(x=px(x0 + 5), y=py(643), xref="paper", yref="paper", text=name,
                            showarrow=False, xanchor="center", yanchor="middle",
                            font=dict(family=FONT, size=8, color="black")))

fig.update_layout(
    width=740, height=700,
    margin=dict(l=50, r=50, t=0, b=100),
    paper_bgcolor="white", plot_bgcolor="white",
    showlegend=False,
    font=dict(family=FONT, size=10, color="black"),
    xaxis=dict(type="date", range=[times[0], times[-1]],
               tickvals=day_ticks, ticktext=day_labels, tickangle=-90,
               ticks="", ticklabelshift=7, ticklabelstandoff=0,
               showgrid=True, gridcolor=GRID, gridwidth=1,
               showline=True, linecolor="black", linewidth=1.5,
               zeroline=False, tickfont=dict(family=FONT, size=10)),
    yaxis=dict(range=[-T_LIM, T_LIM], tickvals=list(range(-35, 45, 5)),
               ticks="", ticklabelstandoff=14,
               showgrid=True, gridcolor=GRID, gridwidth=1, zeroline=False,
               showline=True, linecolor="black", linewidth=1.5,
               tickfont=dict(family=FONT, size=10)),
    yaxis2=dict(range=[P_OFF - T_LIM, P_OFF + T_LIM], tickvals=list(range(0, 80, 5)),
                overlaying="y", side="right", ticks="", ticklabelstandoff=16,
                showgrid=False, zeroline=False,
                showline=True, linecolor="black", linewidth=1.5,
                tickfont=dict(family=FONT, size=10)),
    shapes=shapes,
    annotations=annotations,
)

# page body has a default 8px margin; drop it so the 740x700 figure fills the window
fig.write_html("out.html", config={"displayModeBar": False},
               post_script="document.body.style.margin='0';document.body.style.overflow='hidden';")
